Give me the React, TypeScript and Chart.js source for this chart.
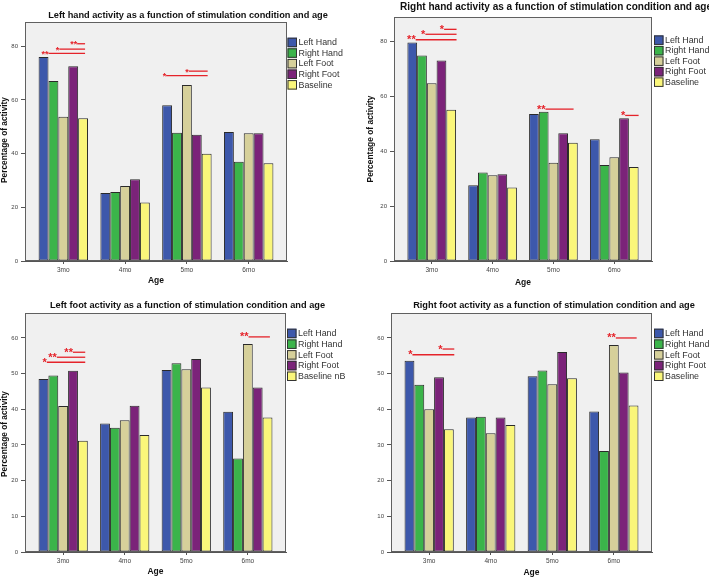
import React, { useEffect, useRef } from 'react';
import { Chart, registerables } from 'chart.js';

Chart.register(...registerables);

// ---------- data ----------
const categories = ['3mo', '4mo', '5mo', '6mo'];
const conditions = ['Left Hand', 'Right Hand', 'Left Foot', 'Right Foot', 'Baseline'];
const conditionsLeftFoot = ['Left Hand', 'Right Hand', 'Left Foot', 'Right Foot', 'Baseline nB'];

const ticksTop = [0, 20, 40, 60, 80];
const ticksBottom = [0, 10, 20, 30, 40, 50, 60];

// Left hand activity
const lhLeftHand = [76.0, 25.3, 58.0, 48.0];
const lhRightHand = [67.0, 25.7, 47.8, 37.0];
const lhLeftFoot = [53.7, 27.9, 65.5, 47.6];
const lhRightFoot = [72.5, 30.4, 47.0, 47.6];
const lhBaseline = [53.2, 21.8, 39.9, 36.4];

// Right hand activity
const rhLeftHand = [79.7, 27.6, 53.6, 44.4];
const rhRightHand = [75.0, 32.3, 54.4, 35.0];
const rhLeftFoot = [64.8, 31.3, 35.8, 37.8];
const rhRightFoot = [73.1, 31.6, 46.6, 52.1];
const rhBaseline = [55.2, 26.8, 43.1, 34.3];

// Left foot activity
const lfLeftHand = [48.5, 36.0, 51.0, 39.3];
const lfRightHand = [49.5, 34.8, 52.9, 26.2];
const lfLeftFoot = [40.9, 36.9, 51.2, 58.3];
const lfRightFoot = [50.8, 41.0, 54.1, 46.1];
const lfBaseline = [31.2, 32.8, 46.1, 37.7];

// Right foot activity
const rfLeftHand = [53.6, 37.7, 49.3, 39.4];
const rfRightHand = [46.9, 37.9, 50.9, 28.3];
const rfLeftFoot = [40.0, 33.3, 47.0, 58.0];
const rfRightFoot = [49.0, 37.7, 56.1, 50.3];
const rfBaseline = [34.4, 35.6, 48.7, 41.1];

// significance brackets: category, from/to in bar units (0 = first bar centre), value, label
type Sig = { cat: number; from: number; to: number; value: number; label: string };
const lhSig: Sig[] = [
  { cat: 0, from: 0.5, to: 4.2, value: 77.3, label: '**' },
  { cat: 0, from: 1.6, to: 4.2, value: 78.9, label: '*' },
  { cat: 0, from: 3.4, to: 4.2, value: 80.9, label: '**' },
  { cat: 2, from: -0.1, to: 4.1, value: 69.0, label: '*' },
  { cat: 2, from: 2.2, to: 4.1, value: 70.7, label: '*' },
];
const rhSig: Sig[] = [
  { cat: 0, from: 0.35, to: 4.55, value: 80.7, label: '**' },
  { cat: 0, from: 1.35, to: 4.55, value: 82.7, label: '*' },
  { cat: 0, from: 3.27, to: 4.55, value: 84.5, label: '*' },
  { cat: 2, from: 1.18, to: 4.07, value: 55.4, label: '**' },
  { cat: 3, from: 3.12, to: 4.5, value: 53.1, label: '*' },
];
const lfSig: Sig[] = [
  { cat: 0, from: 0.34, to: 4.24, value: 53.2, label: '*' },
  { cat: 0, from: 1.36, to: 4.24, value: 54.6, label: '**' },
  { cat: 0, from: 2.99, to: 4.24, value: 56.0, label: '**' },
  { cat: 3, from: 2.07, to: 4.24, value: 60.3, label: '**' },
];
const rfSig: Sig[] = [
  { cat: 0, from: 0.3, to: 4.55, value: 55.3, label: '*' },
  { cat: 0, from: 3.36, to: 4.55, value: 56.9, label: '*' },
  { cat: 3, from: 2.2, to: 4.32, value: 60.0, label: '**' },
];

// ---------- styles ----------
const colors = ['#3d58ab', '#3bb44a', '#d6d09a', '#7b2379', '#faf67a'];
const FAM = "'Liberation Sans', Arial, Helvetica, sans-serif";
const RED = '#e5232a';

type Box = { l: number; r: number; t: number; b: number };
interface PanelProps {
  x: number; y: number; width: number; height: number;
  area: Box;
  title: string; titleCx: number; titleCy: number; titleW: number;
  yTitle: boolean; yTitleCx: number; yTitleCy: number; yTitleLen: number;
  xTitleCx: number; xTitleCy: number;
  legend: string[]; legendX: number; legendY: number; legendStep: number;
  series: number[][]; yMax: number; yTicks: number[]; sig: Sig[]; starSize: number;
}

function fitFont(ctx: CanvasRenderingContext2D, text: string, width: number, weight: string) {
  ctx.font = `${weight} 20px ${FAM}`;
  const w = ctx.measureText(text).width;
  const size = (20 * width) / w;
  return `${weight} ${size.toFixed(2)}px ${FAM}`;
}

function Panel(p: PanelProps) {
  const ref = useRef<HTMLCanvasElement>(null);
  useEffect(() => {
    const canvas = ref.current!;
    const deco = {
      id: 'deco',
      beforeDraw(chart: any) {
        const { ctx, chartArea: a } = chart;
        ctx.save();
        ctx.fillStyle = '#ffffff';
        ctx.fillRect(0, 0, chart.width, chart.height);
        ctx.fillStyle = '#f0f0f0';
        ctx.fillRect(a.left, a.top, a.right - a.left, a.bottom - a.top);
        ctx.restore();
      },
      afterDatasetsDraw(chart: any) {
        const { ctx, chartArea: a } = chart;
        ctx.save();
        ctx.strokeStyle = '#606060';
        ctx.lineWidth = 1;
        ctx.strokeRect(a.left + 0.5, a.top + 0.5, a.right - a.left - 1, a.bottom - a.top - 1);
        ctx.restore();
      },
      afterDraw(chart: any) {
        const { ctx } = chart;
        const yScale = chart.scales.y;
        const m0 = chart.getDatasetMeta(0);
        const m4 = chart.getDatasetMeta(4);
        ctx.save();
        // significance brackets
        for (const s of p.sig) {
          const x0 = m0.data[s.cat].x;
          const x4 = m4.data[s.cat].x;
          const step = (x4 - x0) / 4;
          const xa = x0 + s.from * step;
          const xb = x0 + s.to * step;
          const yy = yScale.getPixelForValue(s.value);
          ctx.strokeStyle = RED;
          ctx.lineWidth = 1.3;
          ctx.beginPath();
          ctx.moveTo(xa, yy);
          ctx.lineTo(xb, yy);
          ctx.stroke();
          ctx.fillStyle = RED;
          ctx.font = `bold ${p.starSize}px ${FAM}`;
          ctx.textAlign = 'right';
          ctx.textBaseline = 'alphabetic';
          ctx.fillText(s.label, xa, yy + 3.5);
        }
        // legend
        const legFont = fitFont(ctx, 'Left Hand', 38.5, 'normal');
        p.legend.forEach((lab, i) => {
          const cy = p.legendY + i * p.legendStep;
          ctx.fillStyle = colors[i];
          ctx.fillRect(p.legendX, cy - 4.6, 9.5, 9.5);
          ctx.strokeStyle = '#333';
          ctx.lineWidth = 1;
          ctx.strokeRect(p.legendX + 0.5, cy - 4.1, 8.5, 8.5);
          ctx.fillStyle = '#333';
          ctx.font = legFont;
          ctx.textAlign = 'left';
          ctx.textBaseline = 'middle';
          ctx.fillText(lab, p.legendX + 11, cy + 0.5);
        });
        // title
        ctx.fillStyle = '#111';
        ctx.font = fitFont(ctx, p.title, p.titleW, 'bold');
        ctx.textAlign = 'center';
        ctx.textBaseline = 'middle';
        ctx.fillText(p.title, p.titleCx, p.titleCy);
        // x title
        ctx.font = fitFont(ctx, 'Age', 16, 'bold');
        ctx.fillText('Age', p.xTitleCx, p.xTitleCy);
        // y title
        if (p.yTitle) {
          ctx.save();
          ctx.translate(p.yTitleCx, p.yTitleCy);
          ctx.rotate(-Math.PI / 2);
          ctx.font = fitFont(ctx, 'Percentage of activity', p.yTitleLen, 'bold');
          ctx.fillText('Percentage of activity', 0, 0);
          ctx.restore();
        }
        ctx.restore();
      },
    };

    const chart = new Chart(canvas, {
      type: 'bar',
      data: {
        datasets: p.series.map((vals, k) => ({
          label: p.legend[k],
          data: vals.map((v, i) => ({ x: i, y: v })),
          backgroundColor: colors[k],
          borderColor: '#2a2a2a',
          borderWidth: 1,
          borderSkipped: false,
          barPercentage: 1,
          categoryPercentage: 0.8,
        })),
      },
      options: {
        responsive: false,
        animation: false,
        devicePixelRatio: 1,
        layout: { padding: { left: 0, top: p.area.t, right: p.width - p.area.r, bottom: 0 } },
        plugins: {
          legend: { display: false },
          title: { display: false },
          tooltip: { enabled: false },
        },
        scales: {
          x: {
            type: 'linear',
            min: -0.62,
            max: categories.length - 1 + 0.62,
            offset: false,
            afterBuildTicks: (s: any) => {
              s.ticks = categories.map((_, i) => ({ value: i }));
            },
            afterFit: (s: any) => {
              s.height = p.height - p.area.b;
            },
            ticks: {
              callback: (v: any) => categories[v] ?? '',
              font: { family: FAM, size: 6.5 },
              color: '#444',
              padding: 2,
              maxRotation: 0,
              autoSkip: false,
            },
            grid: { offset: false, drawOnChartArea: false, drawTicks: true, tickLength: 3, color: '#555' },
            border: { display: true, color: '#555' },
          },
          y: {
            type: 'linear',
            min: 0,
            max: p.yMax,
            afterBuildTicks: (s: any) => {
              s.ticks = p.yTicks.map((v) => ({ value: v }));
            },
            afterFit: (s: any) => {
              s.width = p.area.l;
            },
            ticks: {
              font: { family: FAM, size: 6 },
              color: '#444',
              padding: 3,
            },
            grid: { drawOnChartArea: false, drawTicks: true, tickLength: 4, color: '#555' },
            border: { display: true, color: '#555' },
          },
        },
      } as any,
      plugins: [deco],
    });
    return () => chart.destroy();
  }, []);
  return (
    <canvas
      ref={ref}
      width={p.width}
      height={p.height}
      style={{ position: 'absolute', left: p.x, top: p.y, width: p.width, height: p.height }}
    />
  );
}

export default function App() {
  return (
    <div style={{ position: 'absolute', left: 0, top: 0, width: 709, height: 579, background: '#fff', overflow: 'hidden' }}>
      <Panel
        x={0} y={0} width={355} height={290}
        area={{ l: 25, r: 287, t: 22, b: 261 }}
        title="Left hand activity as a function of stimulation condition and age"
        titleCx={188} titleCy={15} titleW={280}
        yTitle yTitleCx={5} yTitleCy={140} yTitleLen={86}
        xTitleCx={156} xTitleCy={281}
        legend={conditions} legendX={287.5} legendY={42.3} legendStep={10.6}
        series={[lhLeftHand, lhRightHand, lhLeftFoot, lhRightFoot, lhBaseline]}
        yMax={89} yTicks={ticksTop} sig={lhSig} starSize={9}
      />
      <Panel
        x={355} y={0} width={354} height={290}
        area={{ l: 39, r: 297, t: 17, b: 261 }}
        title="Right hand activity as a function of stimulation condition and age"
        titleCx={201} titleCy={7} titleW={312}
        yTitle yTitleCx={16} yTitleCy={139} yTitleLen={87}
        xTitleCx={168} xTitleCy={283}
        legend={conditions} legendX={299} legendY={40} legendStep={10.5}
        series={[rhLeftHand, rhRightHand, rhLeftFoot, rhRightFoot, rhBaseline]}
        yMax={89} yTicks={ticksTop} sig={rhSig} starSize={11}
      />
      <Panel
        x={0} y={290} width={355} height={289}
        area={{ l: 25, r: 286, t: 23, b: 262 }}
        title="Left foot activity as a function of stimulation condition and age"
        titleCx={187.5} titleCy={15.7} titleW={275}
        yTitle yTitleCx={5} yTitleCy={144} yTitleLen={86}
        xTitleCx={155.5} xTitleCy={282}
        legend={conditionsLeftFoot} legendX={287} legendY={43.3} legendStep={10.7}
        series={[lfLeftHand, lfRightHand, lfLeftFoot, lfRightFoot, lfBaseline]}
        yMax={67} yTicks={ticksBottom} sig={lfSig} starSize={11}
      />
      <Panel
        x={355} y={290} width={354} height={289}
        area={{ l: 36, r: 297, t: 23, b: 262 }}
        title="Right foot activity as a function of stimulation condition and age"
        titleCx={199} titleCy={15.7} titleW={282}
        yTitle={false} yTitleCx={0} yTitleCy={0} yTitleLen={0}
        xTitleCx={176.5} xTitleCy={283}
        legend={conditions} legendX={299} legendY={43.3} legendStep={10.7}
        series={[rfLeftHand, rfRightHand, rfLeftFoot, rfRightFoot, rfBaseline]}
        yMax={67} yTicks={ticksBottom} sig={rfSig} starSize={11}
      />
    </div>
  );
}
